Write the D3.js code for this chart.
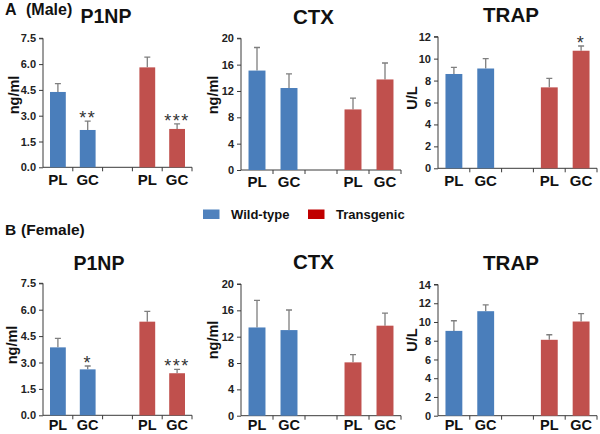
<!DOCTYPE html>
<html><head><meta charset="utf-8">
<script src="https://cdn.jsdelivr.net/npm/d3@7"></script>
<style>
html,body{margin:0;padding:0;background:#fff;}
svg{display:block;font-family:"Liberation Sans",Arial,sans-serif;}
</style></head>
<body>
<svg id="chart" width="600" height="434"></svg>
<script>
// ---- data ----
const slots = ["WT_PL", "WT_GC", "gap", "TG_PL", "TG_GC"];
const barSlots = ["WT_PL", "WT_GC", "TG_PL", "TG_GC"];
const categories = ["PL", "GC", "PL", "GC"];
const groups = ["Wild-type", "Wild-type", "Transgenic", "Transgenic"];
const legendLabels = ["Wild-type", "Transgenic"];

const maleP1NP = [4.38, 2.17, 5.81, 2.23];
const maleP1NPErr = [0.48, 0.52, 0.60, 0.29];
const maleCTX = [15.1, 12.45, 9.2, 13.75];
const maleCTXErr = [3.5, 2.15, 1.7, 2.5];
const maleTRAP = [8.6, 9.1, 7.38, 10.72];
const maleTRAPErr = [0.6, 0.9, 0.82, 0.43];
const femaleP1NP = [3.86, 2.61, 5.32, 2.39];
const femaleP1NPErr = [0.51, 0.19, 0.59, 0.22];
const femaleCTX = [13.4, 13.0, 8.1, 13.67];
const femaleCTXErr = [4.1, 3.05, 1.17, 1.9];
const femaleTRAP = [9.05, 11.15, 8.1, 10.05];
const femaleTRAPErr = [1.08, 0.68, 0.54, 0.85];

const maleP1NPStars = ["", "**", "", "***"];
const maleCTXStars = ["", "", "", ""];
const maleTRAPStars = ["", "", "", "*"];
const femaleP1NPStars = ["", "*", "", "***"];
const femaleCTXStars = ["", "", "", ""];
const femaleTRAPStars = ["", "", "", ""];

const p1npTicks = [0, 1.5, 3.0, 4.5, 6.0, 7.5];
const ctxTicks = [0, 4, 8, 12, 16, 20];
const trapTicksMale = [0, 2, 4, 6, 8, 10, 12];
const trapTicksFemale = [0, 2, 4, 6, 8, 10, 12, 14];

const titles = ["P1NP", "CTX", "TRAP"];
const units = ["ng/ml", "ng/ml", "U/L"];

// ---- styles / layout ----
const colors = {"Wild-type": "#4a7ebb", "Transgenic": "#c0504d"};
const legendColors = {"Wild-type": "#4f81bd", "Transgenic": "#c00000"};

const panels = [
  {title: titles[0], unit: units[0], values: maleP1NP, errs: maleP1NPErr, stars: maleP1NPStars, ticks: p1npTicks, dec: 1,
   x0: 43, x1: 192, yTop: 38.3, yBot: 167.3, titleX: 106, titleY: 23, titleSize: 19.5, unitX: 14, unitY: 95, labOff: 17.5, labSize: 15},
  {title: titles[1], unit: units[1], values: maleCTX, errs: maleCTXErr, stars: maleCTXStars, ticks: ctxTicks, dec: 0,
   x0: 241, x1: 401, yTop: 38.3, yBot: 170, titleX: 313.5, titleY: 24, titleSize: 20.5, unitX: 213, unitY: 95, labOff: 17, labSize: 15},
  {title: titles[2], unit: units[2], values: maleTRAP, errs: maleTRAPErr, stars: maleTRAPStars, ticks: trapTicksMale, dec: 0,
   x0: 438, x1: 597, yTop: 36.7, yBot: 168.3, titleX: 511, titleY: 22, titleSize: 20.5, unitX: 412, unitY: 98, labOff: 17.5, labSize: 15},
  {title: titles[0], unit: units[0], values: femaleP1NP, errs: femaleP1NPErr, stars: femaleP1NPStars, ticks: p1npTicks, dec: 1,
   x0: 43, x1: 192, yTop: 283.3, yBot: 415.3, titleX: 99, titleY: 270, titleSize: 19.5, unitX: 12, unitY: 345, labOff: 14.5, labSize: 14.5},
  {title: titles[1], unit: units[1], values: femaleCTX, errs: femaleCTXErr, stars: femaleCTXStars, ticks: ctxTicks, dec: 0,
   x0: 241, x1: 401, yTop: 284, yBot: 415.7, titleX: 313.5, titleY: 269, titleSize: 20.5, unitX: 213, unitY: 340, labOff: 14.2, labSize: 14.5},
  {title: titles[2], unit: units[2], values: femaleTRAP, errs: femaleTRAPErr, stars: femaleTRAPStars, ticks: trapTicksFemale, dec: 0,
   x0: 438, x1: 597, yTop: 284.5, yBot: 415.7, titleX: 511, titleY: 270, titleSize: 20.5, unitX: 412, unitY: 340, labOff: 14.2, labSize: 14.5}
];

const svg = d3.select("#chart");
const axisColor = "#3a3a3a";

panels.forEach(p => {
  const g = svg.append("g");
  const x = d3.scaleBand().domain(slots).range([p.x0, p.x1]).paddingInner(0.47).paddingOuter(0.235);
  const yMax = p.ticks[p.ticks.length - 1];
  const y = d3.scaleLinear().domain([0, yMax]).range([p.yBot, p.yTop]);

  // y axis
  const yAxis = d3.axisLeft(y).tickValues(p.ticks).tickSize(4).tickPadding(3)
    .tickFormat(d => d3.format("." + p.dec + "f")(d));
  const ya = g.append("g").attr("transform", `translate(${p.x0},0)`).call(yAxis);
  ya.select(".domain").attr("stroke", axisColor).attr("d", `M-4,${y(yMax)}H0V${y(0)}`);
  ya.selectAll(".tick line").attr("stroke", axisColor);
  ya.selectAll(".tick text").attr("fill", "#222").attr("font-size", 11).attr("font-weight", "bold")
    .attr("font-family", "Liberation Sans, Arial, sans-serif");

  // x axis: line with ticks at slot boundaries
  const bounds = slots.map(s => x(s) - x.step() * 0.235).concat([p.x1]);
  g.append("line").attr("x1", p.x0).attr("x2", p.x1).attr("y1", y(0)).attr("y2", y(0))
    .attr("stroke", axisColor).attr("stroke-width", 1);
  g.selectAll(".xt").data(bounds.slice(1)).enter().append("line")
    .attr("x1", d => d).attr("x2", d => d).attr("y1", y(0)).attr("y2", y(0) + 4)
    .attr("stroke", axisColor);

  // bars
  const data = barSlots.map((s, i) => ({slot: s, cat: categories[i], group: groups[i], v: p.values[i], e: p.errs[i], star: p.stars[i]}));
  g.selectAll(".err").data(data).enter().append("path")
    .attr("d", d => {
      const cx = x(d.slot) + x.bandwidth() / 2;
      return `M${cx},${y(d.v)}V${y(d.v + d.e)}M${cx - 3},${y(d.v + d.e)}H${cx + 3}`;
    })
    .attr("stroke", "#7f7f7f").attr("stroke-width", 1.3).attr("fill", "none");
  g.selectAll(".bar").data(data).enter().append("rect")
    .attr("x", d => x(d.slot)).attr("width", x.bandwidth())
    .attr("y", d => y(d.v)).attr("height", d => y(0) - y(d.v))
    .attr("fill", d => colors[d.group]);

  // stars
  g.selectAll(".star").data(data.filter(d => d.star)).enter().append("text")
    .attr("x", d => x(d.slot) + x.bandwidth() / 2).attr("y", d => y(d.v + d.e) + 3)
    .attr("text-anchor", "middle").attr("font-size", 18).attr("fill", "#333")
    .attr("letter-spacing", 1.5)
    .text(d => d.star);

  // x labels
  g.selectAll(".xl").data(data).enter().append("text")
    .attr("x", d => x(d.slot) + x.bandwidth() / 2).attr("y", y(0) + p.labOff)
    .attr("text-anchor", "middle").attr("font-size", p.labSize).attr("font-weight", "bold").attr("fill", "#111")
    .text(d => d.cat);

  // title
  g.append("text").attr("x", p.titleX).attr("y", p.titleY).attr("text-anchor", "middle")
    .attr("font-size", p.titleSize).attr("font-weight", "bold").attr("fill", "#111").text(p.title);

  // unit
  g.append("text").attr("transform", `translate(${p.unitX + 5},${p.unitY}) rotate(-90)`)
    .attr("text-anchor", "middle").attr("font-size", 14.5).attr("font-weight", "bold").attr("fill", "#111")
    .text(p.unit);
});

// section labels
svg.append("text").attr("x", 5).attr("y", 14.5).attr("font-size", 16).attr("font-weight", "bold").attr("fill", "#111").text("A");
svg.append("text").attr("x", 26).attr("y", 14.5).attr("font-size", 16).attr("font-weight", "bold").attr("fill", "#111").text("(Male)");
svg.append("text").attr("x", 5).attr("y", 235).attr("font-size", 15.5).attr("font-weight", "bold").attr("fill", "#111").text("B");
svg.append("text").attr("x", 21).attr("y", 235).attr("font-size", 15.5).attr("font-weight", "bold").attr("fill", "#111").text("(Female)");

// legend
const legX = [203, 308];
const leg = svg.append("g");
legendLabels.forEach((l, i) => {
  leg.append("rect").attr("x", legX[i]).attr("y", 209.5).attr("width", 16.5).attr("height", 9.5).attr("fill", legendColors[l]);
  leg.append("text").attr("x", legX[i] + 28).attr("y", 219).attr("font-size", 13).attr("font-weight", "bold")
    .attr("fill", "#111").text(l);
});
</script>
</body></html>
